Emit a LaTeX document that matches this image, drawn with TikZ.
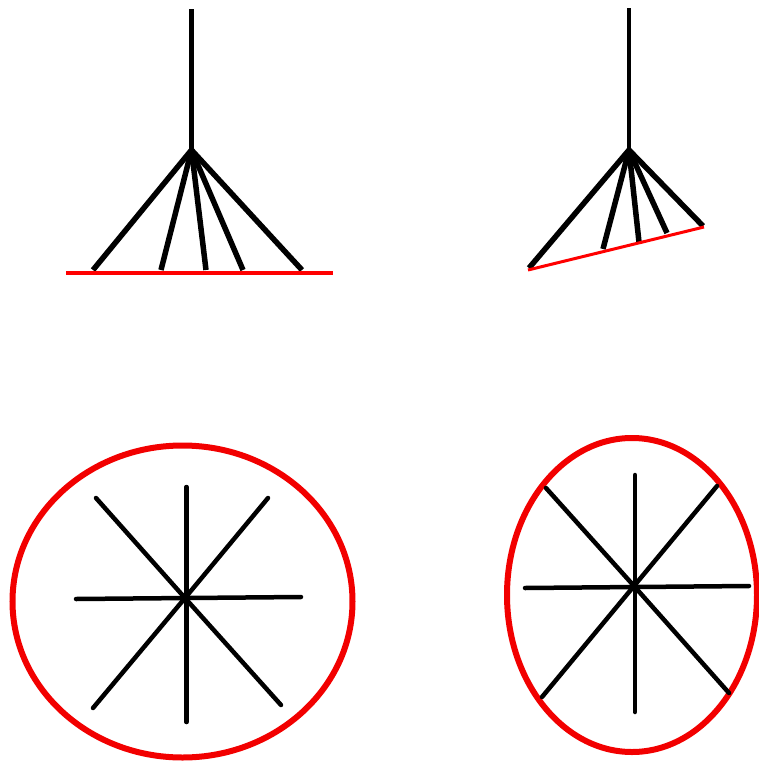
\documentclass[tikz,border=0pt]{standalone}
\begin{document}
\begin{tikzpicture}[x=1pt,y=-1pt,
  tige/.style={line width=5.5pt},
  rayon/.style={line width=4.5pt,line cap=round},
  bord/.style={red!95!black,line width=6pt}]

\useasboundingbox (0,0) rectangle (759,761);

% Eventail droit
\coordinate (A) at (191.5,150);

\draw[line width=4.5pt]
(191.5,9)
--
(A);

\draw[tige] (A) -- (93,270);
\draw[tige] (A) -- (161,270);
\draw[tige] (A) -- (206,270);
\draw[tige] (A) -- (243,270);
\draw[tige] (A) -- (302,270);

\draw[red,line width=4.5pt]
(66,273)
--
(333,273);

% Eventail incline
\coordinate (B) at (629,150);

\draw[line width=4.5pt]
(629,8)
--
(B);

\draw[tige] (B) -- (529,268);
\draw[tige] (B) -- (603,249);
\draw[tige] (B) -- (639,242);
\draw[tige] (B) -- (667,233);
\draw[tige] (B) -- (703,226);

\draw[red,line width=3pt]
(528,270)
--
(704,227);

% Cercle
\coordinate (C) at (185,598);

\draw[bord] (182.5,601.5) ellipse [x radius=170pt, y radius=156pt];

\draw[rayon] (186.5,487) -- (186.5,722);
\draw[rayon] (76,599) -- (301,597);
\draw[rayon] (96,498) -- (C) -- (281,705);
\draw[rayon] (268,498) -- (C) -- (93,708);

% Ellipse
\coordinate (D) at (634,586);

\draw[bord] (632,595) ellipse [x radius=125pt, y radius=157pt];

\draw[rayon] (635,475) -- (635,712);
\draw[rayon] (525,588) -- (749,586);
\draw[rayon] (546,488) -- (D) -- (729,693);
\draw[rayon] (717,486) -- (D) -- (542,697);

\end{tikzpicture}
\end{document}
